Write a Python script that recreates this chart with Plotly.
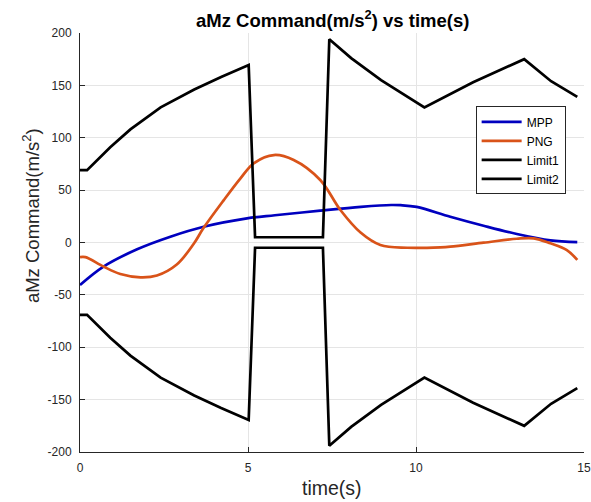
import plotly.graph_objects as go

# ---- data ----
t_limit = [0, 0.21, 0.9, 1.5, 2.4, 3.4, 4.2, 5.02, 5.21, 7.23, 7.42, 8.07, 8.96, 10.25, 11.7, 13.22, 14.02, 14.8]
limit1 = [69, 69, 91, 108, 129, 146, 158, 169.5, 5, 5, 194, 176, 155, 129, 153, 175, 154, 139]
limit2 = [-v for v in limit1]

t_mpp = [0, 0.7, 1.7, 2.69, 3.68, 4.97, 5.8, 7.15, 8.36, 9.26, 9.54, 10.02, 11.02, 12.01, 13.0, 14.0, 14.8]
mpp = [-40.6, -23, -6.5, 5.5, 15, 23, 26, 30.4, 34, 35.8, 35.6, 34.0, 24.6, 16, 8.1, 2.0, 0.3]

t_png = [0, 0.16, 0.7, 1.2, 1.8, 2.29, 2.88, 3.38, 3.68, 4.28, 4.77, 5.17, 5.77, 6.36, 7.15, 7.75,
         8.35, 8.94, 9.74, 10.73, 11.02, 12.01, 13.0, 13.5, 14.0, 14.49, 14.8]
png = [-14, -14, -23, -30, -33.2, -31.5, -21, -1.5, 14, 40.5, 61, 75.6, 83.5, 78.8, 59.7, 31,
       9.5, -2.4, -5, -4.6, -4, -0.2, 3.6, 4, -0.8, -7.2, -16.7]

x_ticks = [0, 5, 10, 15]
x_labels = ["0", "5", "10", "15"]
y_ticks = [-200, -150, -100, -50, 0, 50, 100, 150, 200]
y_labels = ["-200", "-150", "-100", "-50", "0", "50", "100", "150", "200"]

FONT = "Liberation Sans, Arial, Helvetica, sans-serif"
TXT = "#262626"

fig = go.Figure()
fig.add_trace(go.Scatter(x=t_mpp, y=mpp, mode="lines", name="MPP",
                         line=dict(color="#0000BF", width=2.7, shape="spline", smoothing=1.0)))
fig.add_trace(go.Scatter(x=t_png, y=png, mode="lines", name="PNG",
                         line=dict(color="#D95319", width=2.7, shape="spline", smoothing=1.0)))
fig.add_trace(go.Scatter(x=t_limit, y=limit1, mode="lines", name="Limit1",
                         line=dict(color="black", width=2.7)))
fig.add_trace(go.Scatter(x=t_limit, y=limit2, mode="lines", name="Limit2",
                         line=dict(color="black", width=2.7)))

axis_common = dict(showline=True, linecolor=TXT, linewidth=1, ticks="inside", ticklen=5,
                   tickcolor=TXT, showgrid=True, gridcolor="#e5e5e5", gridwidth=1,
                   zeroline=False, mirror=False, automargin=False, ticklabelstandoff=5,
                   tickfont=dict(family=FONT, size=12, color=TXT))

fig.update_layout(
    width=591, height=502,
    margin=dict(l=80, r=7, t=33, b=50),
    paper_bgcolor="white", plot_bgcolor="white",
    font=dict(family=FONT, color=TXT),
    xaxis=dict(range=[0, 15], tickvals=x_ticks, ticktext=x_labels, **axis_common),
    yaxis=dict(range=[-200, 200], tickvals=y_ticks, ticktext=y_labels, **axis_common),
    showlegend=True,
    legend=dict(x=0.785, y=0.825, xanchor="left", yanchor="top",
                bgcolor="white", bordercolor=TXT, borderwidth=1,
                font=dict(family=FONT, size=12, color="black"),
                tracegroupgap=0, itemwidth=40),
    annotations=[
        dict(text="<b>aMz Command(m/s<sup>2</sup>) vs time(s)</b>", xref="paper", yref="paper",
             x=0.5, y=1, yshift=14, xanchor="center", yanchor="middle", showarrow=False,
             font=dict(family=FONT, size=18.5, color="black")),
        dict(text="time(s)", xref="paper", yref="paper", x=0.5, y=0, yshift=-36,
             xanchor="center", yanchor="middle", showarrow=False,
             font=dict(family=FONT, size=19.5, color=TXT)),
        dict(text="aMz Command(m/s<sup>2</sup>)", xref="paper", yref="paper", x=0, y=0.563,
             xshift=-49, xanchor="center", yanchor="middle", textangle=-90, showarrow=False,
             font=dict(family=FONT, size=18.5, color=TXT)),
    ],
)

fig.write_html("out.html")
